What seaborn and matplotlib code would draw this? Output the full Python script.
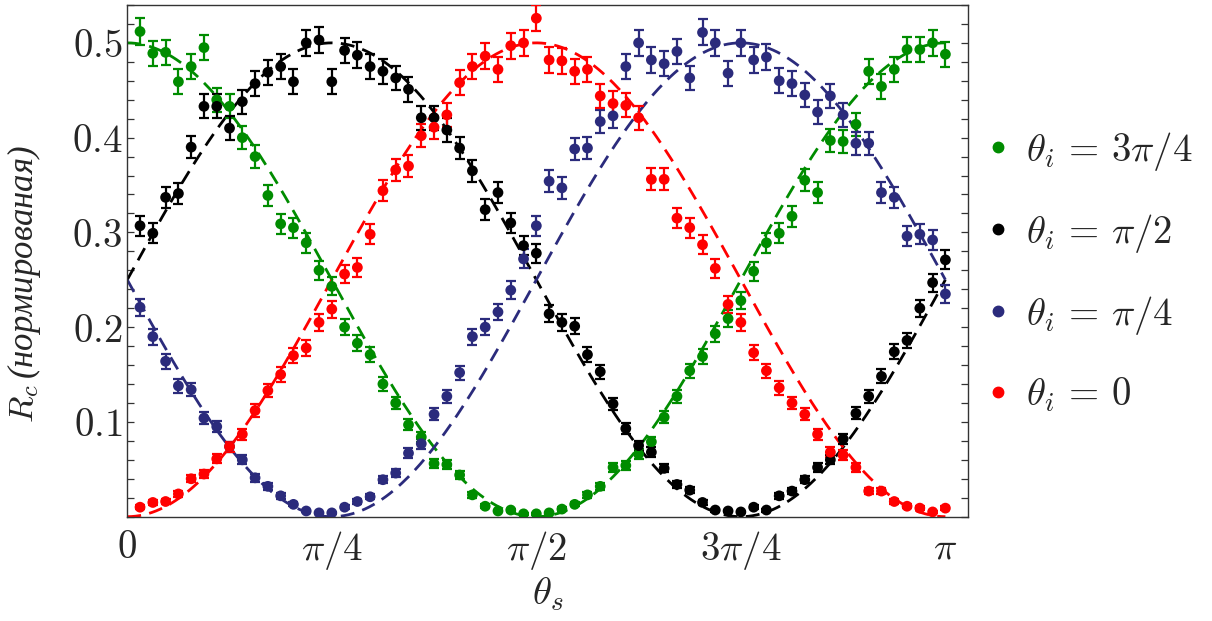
import numpy as np
import pandas as pd
import matplotlib
matplotlib.use("Agg")
import matplotlib.pyplot as plt
from matplotlib.ticker import FixedLocator, MultipleLocator
from matplotlib.lines import Line2D
import seaborn as sns

# Scattering angle grid: 64 settings from pi/64 to pi
theta_s = np.arange(1, 65) * np.pi / 64

# Normalised coincidence rate for each input angle theta_i
rc_3pi4 = [0.512, 0.489, 0.490, 0.459, 0.475, 0.495, 0.440, 0.433, 0.400, 0.380,
           0.339, 0.309, 0.305, 0.289, 0.260, 0.243, 0.200, 0.183, 0.171, 0.140,
           0.120, 0.097, 0.084, 0.056, 0.055, 0.044, 0.023, 0.011, 0.006, 0.007,
           0.003, 0.003, 0.004, 0.008, 0.013, 0.023, 0.032, 0.052, 0.054, 0.066,
           0.079, 0.105, 0.127, 0.154, 0.169, 0.193, 0.209, 0.228, 0.259, 0.289,
           0.299, 0.317, 0.355, 0.342, 0.397, 0.396, 0.414, 0.470, 0.454, 0.472,
           0.493, 0.493, 0.500, 0.488]
rc_pi2 = [0.307, 0.299, 0.337, 0.341, 0.390, 0.433, 0.433, 0.410, 0.438, 0.457,
          0.469, 0.475, 0.459, 0.500, 0.503, 0.459, 0.492, 0.487, 0.475, 0.470,
          0.463, 0.451, 0.421, 0.421, 0.408, 0.389, 0.365, 0.324, 0.342, 0.310,
          0.286, 0.278, 0.214, 0.205, 0.201, 0.171, 0.153, 0.119, 0.093, 0.075,
          0.068, 0.051, 0.034, 0.028, 0.015, 0.007, 0.006, 0.005, 0.010, 0.007,
          0.022, 0.027, 0.039, 0.052, 0.060, 0.082, 0.109, 0.127, 0.148, 0.174,
          0.186, 0.220, 0.247, 0.271]
rc_pi4 = [0.221, 0.190, 0.164, 0.138, 0.134, 0.104, 0.095, 0.074, 0.060, 0.041,
          0.032, 0.022, 0.013, 0.006, 0.004, 0.004, 0.010, 0.016, 0.021, 0.039,
          0.046, 0.067, 0.077, 0.108, 0.127, 0.152, 0.190, 0.200, 0.216, 0.239,
          0.272, 0.307, 0.354, 0.347, 0.388, 0.389, 0.417, 0.423, 0.475, 0.500,
          0.482, 0.478, 0.491, 0.463, 0.511, 0.500, 0.468, 0.500, 0.482, 0.485,
          0.460, 0.457, 0.445, 0.427, 0.444, 0.424, 0.394, 0.394, 0.342, 0.337,
          0.296, 0.298, 0.292, 0.235]
rc_0 = [0.010, 0.015, 0.016, 0.024, 0.040, 0.045, 0.061, 0.074, 0.087, 0.112,
        0.133, 0.150, 0.170, 0.178, 0.205, 0.219, 0.256, 0.263, 0.298, 0.344,
        0.366, 0.370, 0.402, 0.411, 0.424, 0.458, 0.475, 0.486, 0.472, 0.497,
        0.500, 0.526, 0.482, 0.481, 0.470, 0.472, 0.444, 0.436, 0.434, 0.421,
        0.356, 0.356, 0.315, 0.305, 0.287, 0.262, 0.224, 0.205, 0.173, 0.154,
        0.136, 0.120, 0.108, 0.087, 0.068, 0.065, 0.052, 0.027, 0.027, 0.016,
        0.011, 0.009, 0.005, 0.009]

labels = [r"$\theta_i\, =\, 3\pi/4$", r"$\theta_i\, =\, \pi/2$",
          r"$\theta_i\, =\, \pi/4$", r"$\theta_i\, =\, 0$"]
series = [rc_3pi4, rc_pi2, rc_pi4, rc_0]
colors = ["#008c00", "#000000", "#2b2b7c", "#ff0000"]
# Angle of maximum of the model curve 0.5*cos^2(theta_s - phase)
model_phase = [0.0, np.pi / 4, 3 * np.pi / 4, np.pi / 2]
# Counting statistics used for the Poisson error bars
count_norm = 2700

x_ticks = [0, np.pi / 4, np.pi / 2, 3 * np.pi / 4, np.pi]
x_ticklabels = [r"$0$", r"$\pi/4$", r"$\pi/2$", r"$3\pi/4$", r"$\pi$"]
y_ticks = [0.1, 0.2, 0.3, 0.4, 0.5]

sns.set_style("ticks")
plt.rcParams["mathtext.fontset"] = "cm"
plt.rcParams["font.family"] = ["DejaVu Serif"]

frames = []
for lab, vals in zip(labels, series):
    v = np.asarray(vals)
    frames.append(pd.DataFrame({"theta": theta_s, "rc": v,
                                "err": np.sqrt(v / count_norm), "series": lab}))
df = pd.concat(frames, ignore_index=True)

theta_fine = np.linspace(0, np.pi, 400)
model = pd.concat([pd.DataFrame({"theta": theta_fine,
                                 "rc": 0.5 * np.cos(theta_fine - ph) ** 2,
                                 "series": lab})
                   for lab, ph in zip(labels, model_phase)], ignore_index=True)

fig = plt.figure(figsize=(12.12, 6.21), dpi=100)
ax = fig.add_axes([0.105, 0.168, 0.694, 0.824])
palette = dict(zip(labels, colors))

sns.lineplot(data=model, x="theta", y="rc", hue="series", hue_order=labels,
             palette=palette, ax=ax, legend=False, linewidth=2.0,
             dashes=False, zorder=2)
for line in ax.get_lines():
    line.set_dashes([5.0, 3.0])

for lab in labels:
    sub = df[df["series"] == lab]
    ax.errorbar(sub["theta"], sub["rc"], yerr=sub["err"], fmt="none",
                ecolor=palette[lab], elinewidth=1.6, capsize=3.4,
                capthick=1.6, zorder=3)
sns.scatterplot(data=df, x="theta", y="rc", hue="series", hue_order=labels,
                palette=palette, ax=ax, s=60, edgecolor="none", legend=False,
                zorder=4)

ax.set_xlim(0, 1.0281 * np.pi)
ax.set_ylim(0, 0.54)
ax.xaxis.set_major_locator(FixedLocator(x_ticks))
ax.set_xticklabels(x_ticklabels)
ax.yaxis.set_major_locator(FixedLocator(y_ticks))
ax.set_yticklabels([f"${t:.1f}$" for t in y_ticks])
ax.yaxis.set_minor_locator(MultipleLocator(0.02))
ax.tick_params(axis="x", which="both", length=0, labelsize=28, pad=9)
ax.tick_params(axis="y", which="both", direction="in", length=5, width=0.9,
               left=True, right=True, labelsize=28, color="#333333")
for sp in ax.spines.values():
    sp.set_visible(True)
    sp.set_linewidth(1.0)
    sp.set_color("#333333")

ax.set_xlabel(r"$\theta_s$", fontsize=28, labelpad=2)
ax.set_ylabel(r"$R_c\,$(нормированая)", fontsize=25, style="italic",
              family=["Liberation Serif", "DejaVu Serif"])
ax.yaxis.set_label_coords(-0.1, 0.455)

handles = [Line2D([], [], marker="o", linestyle="none", color=c,
                  markersize=7.5) for c in colors]
fig.legend(handles, labels, loc="center left", bbox_to_anchor=(0.782, 0.562),
           frameon=False, fontsize=28, labelspacing=1.0, handletextpad=0.3,
           handlelength=0.8)

fig.savefig("out.png", dpi=100)
